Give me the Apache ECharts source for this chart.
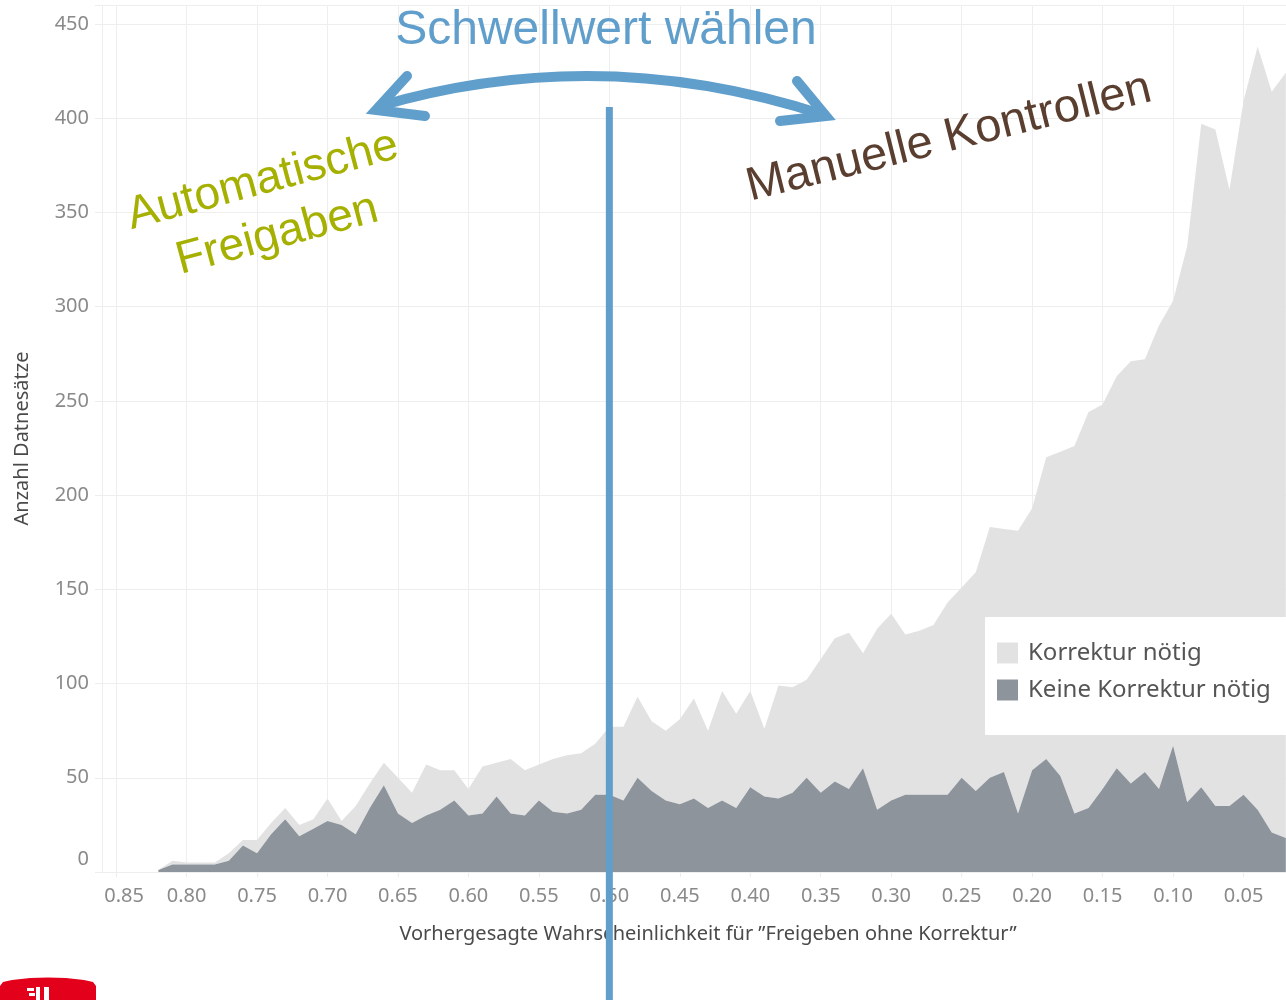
<!DOCTYPE html>
<html><head><meta charset="utf-8">
<script src="https://cdn.jsdelivr.net/npm/echarts@6/dist/echarts.min.js"></script>
<style>html,body{margin:0;padding:0;background:#fff;overflow:hidden}#c{width:1286px;height:1000px}</style>
</head><body><div id="c"></div>
<script>
// X axis domain (probability steps, left to right)
const xCategories = ['0.86','0.85','0.84','0.83','0.82','0.81','0.80','0.79','0.78','0.77','0.76','0.75','0.74','0.73','0.72','0.71','0.70','0.69','0.68','0.67','0.66','0.65','0.64','0.63','0.62','0.61','0.60','0.59','0.58','0.57','0.56','0.55','0.54','0.53','0.52','0.51','0.50','0.49','0.48','0.47','0.46','0.45','0.44','0.43','0.42','0.41','0.40','0.39','0.38','0.37','0.36','0.35','0.34','0.33','0.32','0.31','0.30','0.29','0.28','0.27','0.26','0.25','0.24','0.23','0.22','0.21','0.20','0.19','0.18','0.17','0.16','0.15','0.14','0.13','0.12','0.11','0.10','0.09','0.08','0.07','0.06','0.05','0.04','0.03','0.02','0.01','0.00'];
// Predicted probability bins that hold data
const probabilities = [0.82,0.81,0.80,0.79,0.78,0.77,0.76,0.75,0.74,0.73,0.72,0.71,0.70,0.69,0.68,0.67,0.66,0.65,0.64,0.63,0.62,0.61,0.60,0.59,0.58,0.57,0.56,0.55,0.54,0.53,0.52,0.51,0.50,0.49,0.48,0.47,0.46,0.45,0.44,0.43,0.42,0.41,0.40,0.39,0.38,0.37,0.36,0.35,0.34,0.33,0.32,0.31,0.30,0.29,0.28,0.27,0.26,0.25,0.24,0.23,0.22,0.21,0.20,0.19,0.18,0.17,0.16,0.15,0.14,0.13,0.12,0.11,0.10,0.09,0.08,0.07,0.06,0.05,0.04,0.03,0.02];
// "Keine Korrektur nötig" (dark, bottom of stack)
const keineKorrektur = [1,4,4,4,4,6,14,10,20,28,19,23,27,25,20,34,46,31,26,30,33,38,30,31,40,31,30,38,32,31,33,41,41,38,50,43,38,36,39,34,38,34,45,40,39,42,50,42,48,44,55,33,38,41,41,41,41,50,43,50,53,31,54,60,51,31,34,44,55,47,53,44,67,37,45,35,35,41,33,21,18];
// "Korrektur nötig" (light, stacked on top)
const korrektur = [0,2,1,1,1,4,3,7,6,6,6,5,12,2,15,13,12,19,16,27,21,16,14,25,18,29,24,19,28,31,30,27,36,39,43,37,37,45,53,41,58,50,51,36,60,56,52,71,76,83,61,96,99,85,87,90,102,101,116,133,129,150,139,160,172,195,210,204,208,224,219,246,236,295,352,359,327,368,405,393,406];
const seriesNames = ['Korrektur nötig', 'Keine Korrektur nötig'];
const threshold = '0.50';

const lightColor = '#e2e2e2';
const darkColor = '#8d949c';
const blue = '#609ecb';
const tickFont = 'Noto Sans';

const isTick = (i) => i % 5 === 1 && i < xCategories.length - 1;

const chart = echarts.init(document.getElementById('c'), null, {renderer: 'canvas'});

const option = {
  animation: false,
  backgroundColor: '#ffffff',
  grid: {left: 102, top: 5, width: 1212, height: 867, containLabel: false, outerBoundsMode: 'none'},
  legend: {
    orient: 'vertical', left: 985, top: 617,
    data: seriesNames,
    icon: 'rect', itemWidth: 21, itemHeight: 21, itemGap: 13,
    padding: [24, 60, 33, 12],
    backgroundColor: '#ffffff',
    textStyle: {fontFamily: tickFont, fontSize: 24, color: '#555555', padding: [0, 0, 0, 5]}
  },
  xAxis: {
    type: 'category', data: xCategories, boundaryGap: false,
    name: 'Vorhergesagte Wahrscheinlichkeit für ”Freigeben ohne Korrektur”',
    nameLocation: 'middle', nameGap: 52,
    nameTextStyle: {fontFamily: tickFont, fontSize: 20, color: '#4a4a4a'},
    axisLine: {show: false},
    axisTick: {show: true, length: 5, interval: (i) => isTick(i), lineStyle: {color: '#ededed'}},
    splitLine: {show: true, interval: (i) => i === 0 || isTick(i), lineStyle: {color: '#eeeeee', width: 1}},
    axisLabel: {
      margin: 14, fontSize: 20, color: '#8a8a8a', fontFamily: tickFont,
      interval: (i) => isTick(i),
      formatter: function (v) { return v === '0.85' ? '{s|' + v + '}' : v; },
      rich: {s: {fontSize: 20, color: '#8a8a8a', fontFamily: tickFont, padding: [0, 0, 0, 16]}}
    }
  },
  yAxis: {
    type: 'value', min: 0, max: 460, interval: 50,
    name: 'Anzahl Datnesätze', nameLocation: 'middle', nameGap: 70, nameRotate: 90,
    nameTextStyle: {fontFamily: tickFont, fontSize: 20, color: '#4a4a4a'},
    axisLine: {show: false},
    axisTick: {show: true, length: 7, lineStyle: {color: '#ededed'}},
    splitLine: {show: true, lineStyle: {color: '#eeeeee', width: 1}},
    axisLabel: {
      margin: 13, fontSize: 20, color: '#8a8a8a', fontFamily: tickFont,
      formatter: function (v) {
        if (v > 450) return '';
        return v === 0 ? '{z|0}' : String(v);
      },
      rich: {z: {fontSize: 20, color: '#8a8a8a', fontFamily: tickFont, padding: [0, 0, 26, 0]}}
    }
  },
  series: [
    {
      name: seriesNames[1], type: 'line', stack: 'total', symbol: 'none',
      data: probabilities.map((p, i) => [p.toFixed(2), keineKorrektur[i]]),
      lineStyle: {width: 0}, itemStyle: {color: darkColor},
      areaStyle: {color: darkColor, opacity: 1}, z: 3
    },
    {
      name: seriesNames[0], type: 'line', stack: 'total', symbol: 'none',
      data: probabilities.map((p, i) => [p.toFixed(2), korrektur[i]]),
      lineStyle: {width: 0}, itemStyle: {color: lightColor},
      areaStyle: {color: lightColor, opacity: 1}, z: 2
    }
  ]
};
chart.setOption(option);

const xThr = chart.convertToPixel({xAxisIndex: 0}, threshold);
const textCommon = {align: 'center', verticalAlign: 'middle', textAlign: 'center', textVerticalAlign: 'middle'};
chart.setOption({
  graphic: [
    {type: 'line', z: 100, shape: {x1: xThr, y1: 107, x2: xThr, y2: 1000},
     style: {stroke: blue, lineWidth: 7}},
    {type: 'bezierCurve', z: 100, shape: {x1: 380, y1: 106, x2: 824, y2: 115, cpx1: 600, cpy1: 42},
     style: {stroke: blue, lineWidth: 10, fill: null, lineCap: 'round'}},
    {type: 'polyline', z: 100, shape: {points: [[407, 76], [376, 110], [425, 116]]},
     style: {stroke: blue, lineWidth: 10, fill: null, lineCap: 'round', lineJoin: 'miter'}},
    {type: 'polyline', z: 100, shape: {points: [[797, 81], [826, 116], [780, 121]]},
     style: {stroke: blue, lineWidth: 10, fill: null, lineCap: 'round', lineJoin: 'miter'}},
    {type: 'text', z: 100, x: 606, y: 31,
     style: Object.assign({text: 'Schwellwert wählen', font: '48px "Liberation Sans", Arial, sans-serif', fill: blue}, textCommon)},
    {type: 'text', z: 100, x: 270, y: 208, rotation: 15 * Math.PI / 180,
     style: Object.assign({text: 'Automatische\nFreigaben', font: '46px "Liberation Sans", Arial, sans-serif', fill: '#a5b000', lineHeight: 56}, textCommon)},
    {type: 'text', z: 100, x: 949, y: 138, rotation: 14 * Math.PI / 180,
     style: Object.assign({text: 'Manuelle Kontrollen', font: '47px "Liberation Sans", Arial, sans-serif', fill: '#5a3e2f'}, textCommon)},
    {type: 'polygon', z: 100,
     shape: {points: [[0, 1000], [0, 986], [3, 982], [12, 980], [30, 978], [48, 977.5], [66, 978], [84, 980], [93, 982], [96, 986], [96, 1000]]},
     style: {fill: '#e2001a'}},
    {type: 'rect', z: 101, shape: {x: 27, y: 988, width: 7, height: 3}, style: {fill: '#fff'}},
    {type: 'rect', z: 101, shape: {x: 29, y: 993, width: 6, height: 3}, style: {fill: '#fff'}},
    {type: 'rect', z: 101, shape: {x: 36, y: 987, width: 4, height: 13}, style: {fill: '#fff'}},
    {type: 'rect', z: 101, shape: {x: 44, y: 987, width: 5, height: 13}, style: {fill: '#fff'}}
  ]
});
</script></body></html>
